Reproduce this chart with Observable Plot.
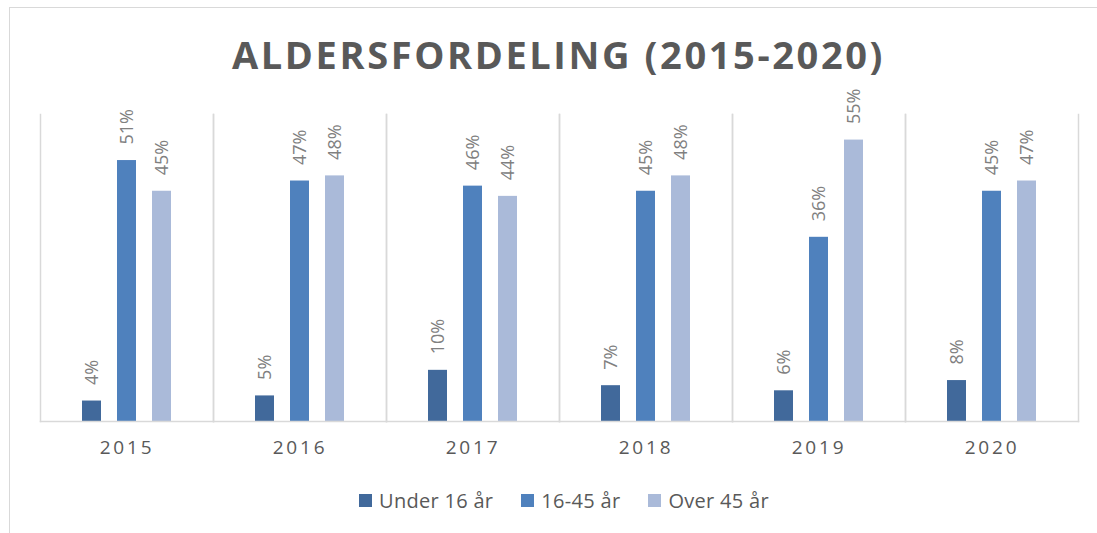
<!DOCTYPE html>
<html>
<head>
<meta charset="utf-8">
<script src="https://cdn.jsdelivr.net/npm/d3@7"></script>
<script src="https://cdn.jsdelivr.net/npm/@observablehq/plot@0.6"></script>
<style>
  html, body { margin: 0; padding: 0; background: #fff; overflow: hidden; }
  #wrap { position: relative; width: 1097px; height: 533px; overflow: hidden; font-family: "Open Sans", sans-serif; }
  #border { position: absolute; left: 9px; top: 7px; width: 1200px; height: 700px; border: 1.5px solid #d9d9d9; box-sizing: border-box; }
  #chart { position: absolute; left: 0; top: 0; }
  #title { position: absolute; left: 0; width: 1097px; top: 28px; text-align: center; font-size: 38px; font-weight: 700; letter-spacing: 2.6px; color: #595959; line-height: 52px; padding-left: 20px; box-sizing: border-box; }
  #legend { position: absolute; left: 359px; top: 485px; }
  .lg-swatches { font-family: "Open Sans", sans-serif !important; font-size: 20px !important; letter-spacing: 0.3px; color: #595959 !important; min-height: 30px !important; margin: 0 !important; }
  .lg-swatch { margin-right: 28px !important; }
  .lg-swatch > svg { margin-right: 7px !important; }
  #chart [aria-label="fx-axis tick label"] text { letter-spacing: 2.8px; }
</style>
</head>
<body>
<div id="wrap">
  <div id="border"></div>
  <div id="chart"></div>
  <div id="title">ALDERSFORDELING (2015-2020)</div>
  <div id="legend"></div>
</div>
<script>
const years = ["2015", "2016", "2017", "2018", "2019", "2020"];
const seriesNames = ["Under 16 år", "16-45 år", "Over 45 år"];
const under16 = [4, 5, 10, 7, 6, 8];
const age16to45 = [51, 47, 46, 45, 36, 45];
const over45 = [45, 48, 44, 48, 55, 47];
const seriesColors = ["#41699b", "#4f81bd", "#aabad9"];

const seriesValues = [under16, age16to45, over45];
const rows = [];
years.forEach((y, i) => {
  seriesNames.forEach((s, j) => {
    rows.push({year: y, series: s, value: seriesValues[j][i]});
  });
});

const chart = Plot.plot({
  width: 1097,
  height: 470,
  marginTop: 114,
  marginBottom: 49,
  marginLeft: 39,
  marginRight: 18,
  style: {fontFamily: "Open Sans, sans-serif", background: "transparent"},
  fx: {domain: years, padding: 0, label: null},
  x: {domain: seriesNames, paddingInner: 0.465, paddingOuter: 1.17, axis: null},
  y: {domain: [0, 60], axis: null},
  color: {domain: seriesNames, range: seriesColors},
  marks: [
    Plot.frame({anchor: "left", stroke: "#d9d9d9", strokeWidth: 1.5}),
    Plot.frame({anchor: "right", stroke: "#d9d9d9", strokeWidth: 1.5}),
    Plot.barY(rows, {fx: "year", x: "series", y: "value", fill: "series"}),
    Plot.frame({anchor: "bottom", stroke: "#d9d9d9", strokeWidth: 1.5}),
    Plot.text(rows, {fx: "year", x: "series", y: "value", text: d => d.value + "%", rotate: -90, textAnchor: "start", lineAnchor: "middle", dy: -16, fontSize: 18, fill: "#808080"}),
    Plot.axisFx({anchor: "bottom", tickSize: 0, tickPadding: 19, fontSize: 19, fill: "#595959", label: null})
  ]
});
document.getElementById("chart").appendChild(chart);

const leg = chart.legend("color", {className: "lg", swatchSize: 13});
document.getElementById("legend").appendChild(leg);
</script>
</body>
</html>
